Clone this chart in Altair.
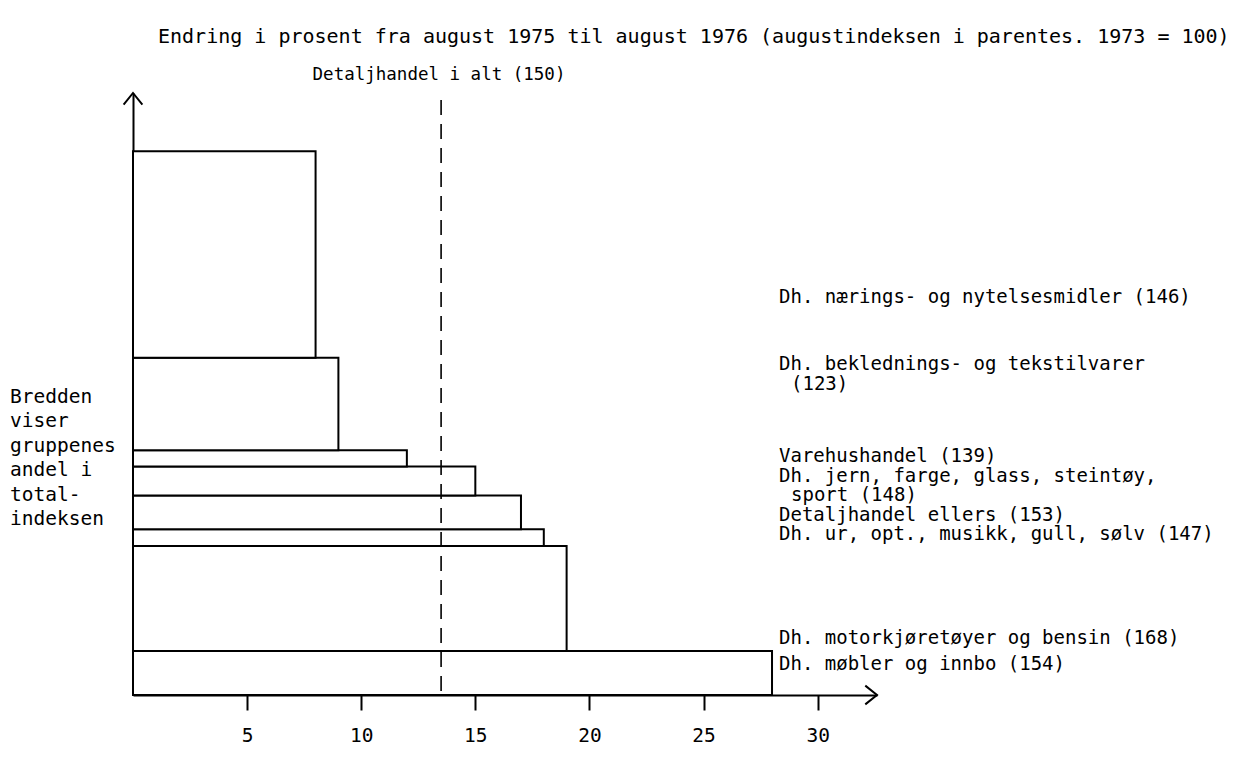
import altair as alt
import pandas as pd

# ---- data ----
groups = [
    "Dh. nærings- og nytelsesmidler (146)",
    "Dh. beklednings- og tekstilvarer (123)",
    "Varehushandel (139)",
    "Dh. jern, farge, glass, steintøy, sport (148)",
    "Detaljhandel ellers (153)",
    "Dh. ur, opt., musikk, gull, sølv (147)",
    "Dh. motorkjøretøyer og bensin (168)",
    "Dh. møbler og innbo (154)",
]
change = [8, 9, 12, 15, 17, 18, 19, 28]             # % change Aug 1975 -> Aug 1976
share = [38, 17, 3, 5.3, 6.2, 3.1, 19.3, 8.1]       # group weight in total index (bar thickness)
total_change = 13.5                                 # Detaljhandel i alt (150)
x_ticks = [5, 10, 15, 20, 25, 30]

title_text = "Endring i prosent fra august 1975 til august 1976 (augustindeksen i parentes.  1973 = 100)"
total_label = "Detaljhandel i alt (150)"
left_note = ["Bredden", "viser", "gruppenes", "andel i", "total-", "indeksen"]
label_lines = [
    ["Dh. nærings- og nytelsesmidler (146)"],
    ["Dh. beklednings- og tekstilvarer", "(123)"],
    ["Varehushandel (139)"],
    ["Dh. jern, farge, glass, steintøy,", "sport (148)"],
    ["Detaljhandel ellers (153)"],
    ["Dh. ur, opt., musikk, gull, sølv (147)"],
    ["Dh. motorkjøretøyer og bensin (168)"],
    ["Dh. møbler og innbo (154)"],
]

# ---- layout (pixels, relative to plot area) ----
W, H = 744, 602
X_MAX, Y_MAX = 32.6, 110.7
DASH_TOP = 109.4
FONT = "DejaVu Sans Mono"
FS = 19
label_y = [[204], [271, 290.5], [363], [382.5, 402], [421.5], [441], [545], [571]]
label_x = 646
indent = 12
note_x, note_y0, note_dy = -123, 304, 24.4

df = pd.DataFrame({"group": groups, "change": change, "share": share}).iloc[::-1].reset_index(drop=True)
df["y1"] = df["share"].cumsum()
df["y0"] = df["y1"] - df["share"]
df["x0"] = 0

xs = alt.Scale(domain=[0, X_MAX], nice=False, zero=False)
ys = alt.Scale(domain=[0, Y_MAX], nice=False, zero=False)

bars = alt.Chart(df).mark_rect(fill="white", stroke="black", strokeWidth=2).encode(
    x=alt.X("x0:Q", scale=xs, axis=alt.Axis(
        values=x_ticks, title=None, grid=False, domainColor="black", domainWidth=2,
        tickColor="black", tickWidth=2, tickSize=15, labelFont=FONT, labelFontSize=19.5,
        labelColor="black", labelPadding=16)),
    x2="change:Q",
    y=alt.Y("y0:Q", scale=ys, axis=alt.Axis(
        title=None, grid=False, ticks=False, labels=False, domainColor="black", domainWidth=2)),
    y2="y1:Q",
)

tot = pd.DataFrame({"v": [total_change], "top": [DASH_TOP], "bottom": [0]})
dashed = alt.Chart(tot).mark_rule(color="black", strokeWidth=1.6, strokeDash=[15, 9]).encode(
    x=alt.X("v:Q", scale=xs),
    y=alt.Y("top:Q", scale=ys),
    y2="bottom:Q",
)

arrows = pd.DataFrame({"x": [X_MAX, 0], "y": [0, Y_MAX], "dir": ["r", "u"]})
arrow_r = alt.Chart(arrows[arrows.dir == "r"]).mark_point(
    shape="M -1 -0.8 L 0 0 L -1 0.8", filled=False, stroke="black", strokeWidth=2, size=550, opacity=1
).encode(x=alt.X("x:Q", scale=xs), y=alt.Y("y:Q", scale=ys))
arrow_u = alt.Chart(arrows[arrows.dir == "u"]).mark_point(
    shape="M -0.8 1 L 0 0 L 0.8 1", filled=False, stroke="black", strokeWidth=2, size=550, opacity=1
).encode(x=alt.X("x:Q", scale=xs), y=alt.Y("y:Q", scale=ys))

rows = []
for lines, ys_ in zip(label_lines, label_y):
    for k, (t, yy) in enumerate(zip(lines, ys_)):
        rows.append({"t": t, "px": label_x + (indent if k > 0 else 0), "py": yy})
tdf = pd.DataFrame(rows)
texts = alt.Chart(tdf).mark_text(
    align="left", baseline="middle", font=FONT, fontSize=FS, color="black"
).encode(x=alt.X("px:Q", scale=None), y=alt.Y("py:Q", scale=None), text="t:N")

ndf = pd.DataFrame({"t": left_note, "px": note_x,
                    "py": [note_y0 + i * note_dy for i in range(len(left_note))]})
note = alt.Chart(ndf).mark_text(
    align="left", baseline="middle", font=FONT, fontSize=19.5, color="black"
).encode(x=alt.X("px:Q", scale=None), y=alt.Y("py:Q", scale=None), text="t:N")

hdr = pd.DataFrame({"t": [title_text, total_label], "px": [25, 306], "py": [-56, -18]})
title_mark = alt.Chart(hdr.iloc[[0]]).mark_text(
    align="left", baseline="middle", font=FONT, fontSize=20, color="black"
).encode(x=alt.X("px:Q", scale=None), y=alt.Y("py:Q", scale=None), text="t:N")
total_mark = alt.Chart(hdr.iloc[[1]]).mark_text(
    align="center", baseline="middle", font=FONT, fontSize=17.5, color="black"
).encode(x=alt.X("px:Q", scale=None), y=alt.Y("py:Q", scale=None), text="t:N")

chart = alt.layer(bars, dashed, arrow_r, arrow_u, texts, note, title_mark, total_mark).properties(
    width=W, height=H,
    autosize=alt.AutoSizeParams(type="none"),
    padding={"left": 125, "top": 85, "right": 365, "bottom": 55},
).configure(background="white").configure_view(stroke=None)

chart.save("out.html", embed_options={"renderer": "svg", "actions": False})
